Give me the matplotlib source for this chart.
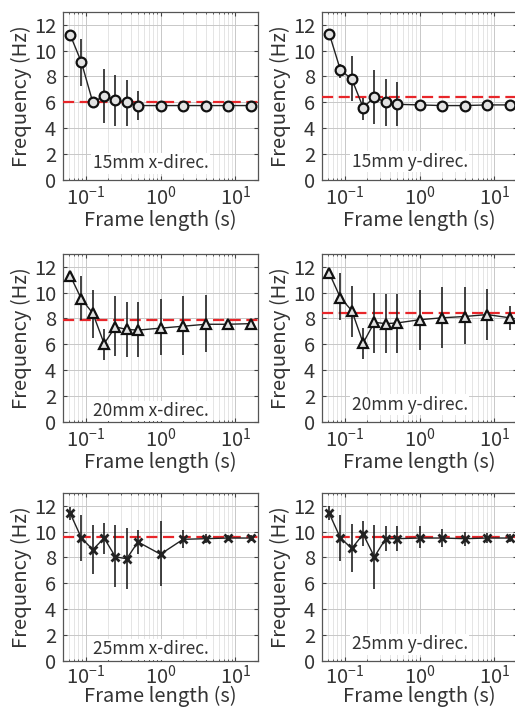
import matplotlib
matplotlib.use("Agg")
import matplotlib.pyplot as plt
import numpy as np
from matplotlib.ticker import LogLocator, LogFormatterMathtext, MultipleLocator

plt.rcParams['font.family'] = ['Noto Sans CJK JP', 'DejaVu Sans']
plt.rcParams['mathtext.default'] = 'regular'

# frame lengths (s)
frame_len = [0.0625, 0.088, 0.125, 0.177, 0.25, 0.354, 0.5, 1, 2, 4, 8, 16]

# 15 mm
f15x = [11.2, 9.1, 6.0, 6.5, 6.2, 6.0, 5.75, 5.75, 5.75, 5.75, 5.75, 5.75]
lo15x = [11.0, 7.3, 5.9, 4.4, 4.2, 4.2, 4.6, 5.6, 5.6, 5.6, 5.6, 5.6]
hi15x = [11.4, 10.9, 6.1, 8.6, 8.15, 7.7, 6.9, 5.9, 5.9, 5.9, 5.9, 5.9]
ref15x = 6.05

f15y = [11.3, 8.5, 7.8, 5.6, 6.4, 6.0, 5.85, 5.8, 5.75, 5.75, 5.8, 5.8]
lo15y = [11.1, 7.85, 6.1, 4.6, 4.3, 4.2, 4.2, 5.7, 5.65, 5.65, 5.7, 5.7]
hi15y = [11.5, 9.0, 9.6, 6.3, 8.5, 7.8, 7.6, 5.9, 5.85, 5.85, 5.9, 5.9]
ref15y = 6.4

# 20 mm
f20x = [11.3, 9.5, 8.4, 6.05, 7.35, 7.15, 7.1, 7.25, 7.4, 7.55, 7.55, 7.6]
lo20x = [11.1, 7.9, 6.5, 4.8, 5.1, 5.0, 5.0, 5.15, 5.2, 5.4, 7.4, 7.45]
hi20x = [11.5, 11.3, 10.2, 7.2, 9.7, 9.3, 9.3, 9.5, 9.7, 9.85, 7.7, 7.75]
ref20x = 7.9

f20y = [11.5, 9.6, 8.6, 6.1, 7.7, 7.6, 7.65, 7.9, 8.05, 8.15, 8.3, 8.05]
lo20y = [11.1, 7.9, 6.6, 4.9, 5.3, 5.3, 5.3, 5.6, 5.75, 6.05, 6.3, 7.1]
hi20y = [11.9, 11.5, 10.5, 7.3, 10.0, 9.9, 9.9, 10.2, 10.4, 10.4, 10.3, 9.0]
ref20y = 8.4

# 25 mm
f25x = [11.4, 9.5, 8.6, 9.5, 8.05, 7.9, 9.2, 8.25, 9.4, 9.45, 9.5, 9.5]
lo25x = [10.9, 7.7, 6.7, 8.3, 5.7, 5.55, 8.25, 5.8, 8.75, 9.1, 9.3, 9.3]
hi25x = [11.9, 11.3, 10.5, 10.7, 10.5, 10.3, 10.15, 10.8, 10.1, 9.8, 9.7, 9.7]
ref25x = 9.6

f25y = [11.4, 9.5, 8.7, 9.8, 8.05, 9.45, 9.45, 9.5, 9.5, 9.45, 9.5, 9.5]
lo25y = [10.9, 7.7, 6.85, 8.9, 5.55, 8.5, 8.5, 8.75, 8.8, 8.9, 9.1, 9.2]
hi25y = [12.0, 11.3, 10.6, 10.85, 10.5, 10.4, 10.4, 10.4, 10.2, 10.0, 9.9, 9.8]
ref25y = 9.6

panels = [
    (f15x, lo15x, hi15x, ref15x, 'o', '15mm x-direc.', 1.3),
    (f15y, lo15y, hi15y, ref15y, 'o', '15mm y-direc.', 1.4),
    (f20x, lo20x, hi20x, ref20x, '^', '20mm x-direc.', 0.85),
    (f20y, lo20y, hi20y, ref20y, '^', '20mm y-direc.', 1.35),
    (f25x, lo25x, hi25x, ref25x, 'x', '25mm x-direc.', 0.9),
    (f25y, lo25y, hi25y, ref25y, 'x', '25mm y-direc.', 1.3),
]

fig = plt.figure(figsize=(5.15, 7.1), dpi=100)

lefts = [63 / 515, 322 / 515]
bottoms = [(710 - 180) / 710, (710 - 422) / 710, (710 - 661) / 710]
w = 195 / 515
h = 0.237

for i, (f, lo, hi, ref, mk, label, ty) in enumerate(panels):
    ax = fig.add_axes([lefts[i % 2], bottoms[i // 2], w, h])
    f = np.array(f)
    yerr = [f - np.array(lo), np.array(hi) - f]
    ax.axhline(ref, color='#e8262a', ls=(0, (5, 2.5)), lw=1.6, zorder=3)
    if mk == 'x':
        ax.errorbar(frame_len, f, yerr=yerr, color='#222222', lw=1.0,
                    marker='x', ms=6, mew=2.0, elinewidth=1.2, capsize=0, zorder=4)
    else:
        ax.errorbar(frame_len, f, yerr=yerr, color='#222222', lw=1.0,
                    marker=mk, ms=7, mfc='#e2e2e2',
                    mec='#111111', mew=1.6, elinewidth=1.2, capsize=0, zorder=4)
    ax.set_xscale('log')
    ax.set_xlim(0.05, 20)
    ax.set_ylim(0, 13)
    ax.yaxis.set_major_locator(MultipleLocator(2))
    ax.xaxis.set_major_locator(LogLocator(base=10, numticks=10))
    ax.xaxis.set_major_formatter(LogFormatterMathtext())
    ax.xaxis.set_minor_locator(LogLocator(base=10, subs=np.arange(2, 10), numticks=20))
    ax.grid(True, which='major', color='#c8c8c8', lw=0.7)
    ax.grid(True, which='minor', color='#e0e0e0', lw=0.6)
    ax.tick_params(which='both', direction='in', labelsize=14.5, color='#444444',
                   top=True, right=True, length=3)
    ax.tick_params(which='minor', length=1.5)
    # bottom row sits right at the figure edge, keep its labels a bit tighter
    ax.tick_params(axis='x', pad=2.5 if i >= 4 else 4)
    ax.tick_params(axis='y', pad=5)
    for s in ax.spines.values():
        s.set_color('#555555')
        s.set_linewidth(0.9)
    ax.set_xlabel('Frame length (s)', fontsize=14.5, color='#333333',
                  labelpad=-1.5 if i >= 4 else 0)
    ax.set_ylabel('Frequency (Hz)', fontsize=14.5, color='#333333', labelpad=1)
    for t in ax.get_xticklabels() + ax.get_yticklabels():
        t.set_color('#333333')
    ax.text(0.45, ty, label, transform=ax.get_yaxis_transform(), ha='center',
            va='center', fontsize=12.5, color='#333333', zorder=5,
            bbox=dict(facecolor='white', edgecolor='none', pad=1.0))

fig.savefig('out.png', dpi=100)
